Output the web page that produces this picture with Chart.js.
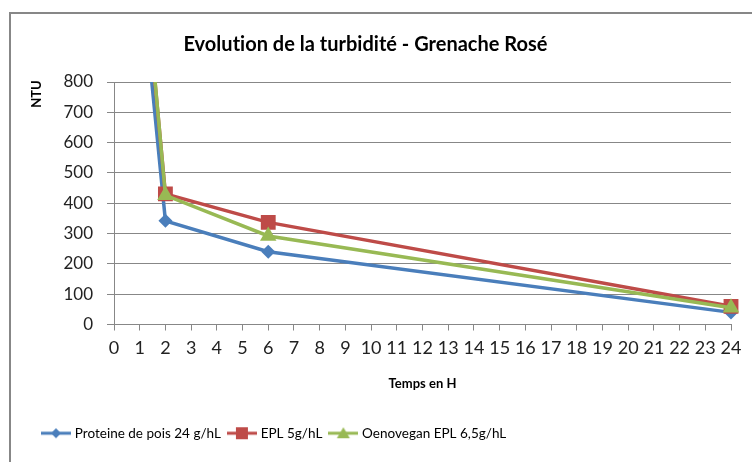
<!DOCTYPE html>
<html>
<head>
<meta charset="utf-8">
<script src="https://cdn.jsdelivr.net/npm/chart.js@4/dist/chart.umd.min.js"></script>
<style>
  html, body { margin: 0; padding: 0; background: #fff; }
  #wrap { width: 752px; height: 462px; }
</style>
</head>
<body>
<div id="wrap"><canvas id="turbChart" width="752" height="462"></canvas></div>
<script>
// data
const hours = [0, 2, 6, 24];
const proteinePois = [2070, 342, 240, 40];
const epl5 = [2250, 431, 337, 60];
const oenovegan = [2300, 426, 292, 55];
const yTicks = [0, 100, 200, 300, 400, 500, 600, 700, 800];

const labels = ['Proteine de pois 24 g/hL', 'EPL 5g/hL', 'Oenovegan EPL 6,5g/hL'];
const colors = ['#4A7EBB', '#BE4B48', '#98B954'];
const styles = ['rectRot', 'rect', 'triangle'];
const radii = [7, 10.5, 9.5];

const FONT = 'Lato, "Open Sans", sans-serif';

function pts(vals) {
  return hours.map((h, i) => ({ x: h, y: vals[i] }));
}

// small line+marker icon for the legend, like Excel's
function legendIcon(color, style) {
  const c = document.createElement('canvas');
  c.width = 30; c.height = 14;
  const g = c.getContext('2d');
  g.strokeStyle = color; g.fillStyle = color; g.lineWidth = 3;
  g.beginPath(); g.moveTo(0, 7); g.lineTo(30, 7); g.stroke();
  g.beginPath();
  if (style === 'rectRot') {
    g.moveTo(15, 2); g.lineTo(20, 7); g.lineTo(15, 12); g.lineTo(10, 7);
  } else if (style === 'rect') {
    g.rect(9, 1, 12, 12);
  } else {
    g.moveTo(15, 1); g.lineTo(21.5, 12); g.lineTo(8.5, 12);
  }
  g.closePath(); g.fill();
  return c;
}
const icons = colors.map((c, i) => legendIcon(c, styles[i]));

const frame = {
  id: 'frame',
  beforeDraw(chart) {
    const ctx = chart.ctx;
    ctx.save();
    ctx.fillStyle = '#fff';
    ctx.fillRect(0, 0, chart.width, chart.height);
    ctx.strokeStyle = '#878787';
    ctx.lineWidth = 2;
    ctx.strokeRect(10, 13, 800, 520);
    ctx.restore();
    ctx.letterSpacing = '0.01px'; // keeps Lato from joining "ti"
  },
  afterLayout(chart) {
    // Excel legend sits left of centre
    chart.legend.left += 35;
    chart.legend.right += 35;
  },
  afterDraw(chart) {
    const ctx = chart.ctx;
    ctx.save();
    ctx.translate(37, 94);
    ctx.rotate(-Math.PI / 2);
    ctx.font = 'bold 13px ' + FONT;
    ctx.fillStyle = '#000';
    ctx.textAlign = 'center';
    ctx.textBaseline = 'middle';
    ctx.fillText('NTU', 0, 0);
    ctx.restore();
  }
};

new Chart(document.getElementById('turbChart'), {
  type: 'line',
  data: {
    datasets: [proteinePois, epl5, oenovegan].map((vals, i) => ({
      label: labels[i],
      data: pts(vals),
      order: 3 - i, // later series on top, as in Excel
      borderColor: colors[i],
      backgroundColor: colors[i],
      borderWidth: 3.5,
      tension: 0,
      pointStyle: styles[i],
      pointRadius: radii[i],
      pointBorderWidth: 0,
      clip: { left: 0, top: 0, right: 12, bottom: 12 }
    }))
  },
  options: {
    responsive: false,
    animation: false,
    events: [],
    layout: { padding: { left: 0, right: 21, top: 0, bottom: 12 } },
    plugins: {
      title: {
        display: true,
        text: 'Evolution de la turbidité - Grenache Rosé',
        color: '#000',
        font: { family: FONT, size: 20, weight: 'bold' },
        padding: { top: 33, bottom: 25 }
      },
      legend: {
        position: 'bottom',
        align: 'start',
        labels: {
          usePointStyle: true,
          pointStyleWidth: 24,
          padding: 9,
          color: '#000',
          font: { family: FONT, size: 13.5 },
          generateLabels(chart) {
            return chart.data.datasets.map((ds, i) => ({
              text: ds.label,
              pointStyle: icons[i],
              fillStyle: colors[i],
              strokeStyle: colors[i],
              lineWidth: 0,
              fontColor: '#000',
              datasetIndex: i
            }));
          }
        }
      },
      tooltip: { enabled: false }
    },
    scales: {
      x: {
        type: 'linear',
        min: 0,
        max: 24,
        afterFit(scale) { scale.height = 93; },
        ticks: { stepSize: 1, color: '#222', padding: 7, autoSkip: false, maxRotation: 0,
                 font: { family: FONT, size: 18 } },
        grid: { drawOnChartArea: false, drawTicks: true, tickLength: 6, color: '#878787' },
        border: { color: '#878787', width: 1 },
        title: {
          display: true, text: 'Temps en H', color: '#000',
          font: { family: FONT, size: 13, weight: 'bold' },
          padding: { top: 0, bottom: 26 }
        }
      },
      y: {
        min: 0,
        max: 800,
        afterFit(scale) { scale.width = 114; },
        afterBuildTicks(scale) { scale.ticks = yTicks.map(v => ({ value: v })); },
        ticks: { color: '#222', padding: 14, font: { family: FONT, size: 17 } },
        grid: { color: '#878787', tickLength: 7 },
        border: { color: '#878787', width: 1 }
      }
    }
  },
  plugins: [frame]
});
</script>
</body>
</html>
